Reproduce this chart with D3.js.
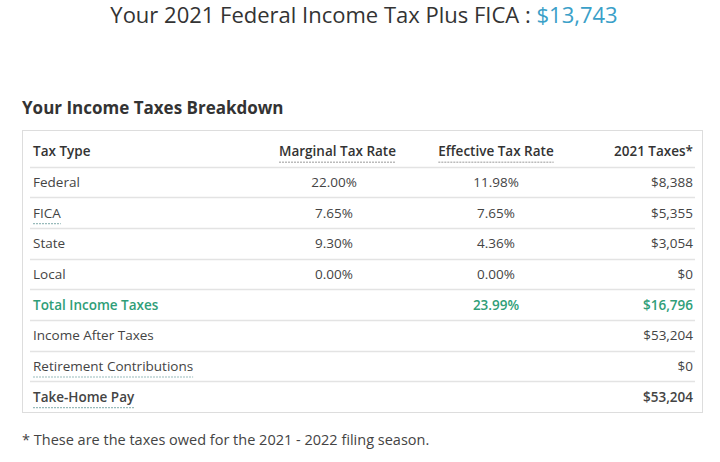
<!DOCTYPE html>
<html>
<head>
<meta charset="utf-8">
<style>
  body{margin:0;background:#fff;}
  text{font-family:"Open Sans",Lato,sans-serif;}
</style>
</head>
<body>
<div id="chart"></div>
<script src="https://cdn.jsdelivr.net/npm/d3@7"></script>
<script>
var headers = ["Tax Type","Marginal Tax Rate","Effective Tax Rate","2021 Taxes*"];
var taxTypes = ["Federal","FICA","State","Local","Total Income Taxes","Income After Taxes","Retirement Contributions","Take-Home Pay"];
var marginal = ["22.00%","7.65%","9.30%","0.00%","","","",""];
var effective = ["11.98%","7.65%","4.36%","0.00%","23.99%","","",""];
var taxes = ["$8,388","$5,355","$3,054","$0","$16,796","$53,204","$0","$53,204"];
var underlined = ["FICA","Retirement Contributions","Take-Home Pay"];

var svg = d3.select("#chart").append("svg").attr("width",720).attr("height",462);

// title
var t = svg.append("text").attr("x",364).attr("y",23).attr("text-anchor","middle")
  .style("font-size","22px").style("font-weight","500").style("fill","#333");
t.append("tspan").text("Your 2021 Federal Income Tax Plus FICA : ");
t.append("tspan").style("fill","#3aa0c8").text("$13,743");

svg.append("text").attr("x",22).attr("y",114).style("font-size","17px")
  .style("font-weight","bold").style("fill","#333").text("Your Income Taxes Breakdown");

// table box
svg.append("rect").attr("x",22.5).attr("y",130.5).attr("width",680).attr("height",282)
  .attr("fill","none").attr("stroke","#ddd");

var y = d3.scaleBand().domain(d3.range(9)).range([136,412]);
var colX = [33,396,557,693];
var anchors = ["start","end","middle","end"];

// separators
svg.selectAll("line.sep").data(d3.range(1,9)).enter().append("line")
  .attr("x1",30).attr("x2",695)
  .attr("y1",function(d){return Math.round(y(d))+0.5;})
  .attr("y2",function(d){return Math.round(y(d))+0.5;})
  .attr("stroke","#e3e3e3").attr("stroke-width",1.5);

// header
headers.forEach(function(h,i){
  var x = i==2 ? 496 : colX[i];
  var el = svg.append("text").attr("x",x).attr("y",y(0)+y.bandwidth()/2+5)
    .attr("text-anchor",anchors[i]).style("font-size","13.5px").style("font-weight","600")
    .style("fill","#333").text(h);
  if(i==1||i==2){
    var w = el.node().getComputedTextLength();
    var x0 = i==1 ? x-w : x-w/2;
    svg.append("line").attr("x1",x0).attr("x2",x0+w)
      .attr("y1",y(0)+y.bandwidth()/2+11).attr("y2",y(0)+y.bandwidth()/2+11)
      .attr("stroke","#bbb").attr("stroke-width",1.5).attr("stroke-dasharray","2,1");
  }
});

// rows
taxTypes.forEach(function(name,r){
  var cy = y(r+1)+y.bandwidth()/2+5;
  var isTotal = name=="Total Income Taxes";
  var isTake = name=="Take-Home Pay";
  var col = isTotal ? "#2f9e78" : "#444";
  var wt = (isTotal||isTake) ? "600" : "normal";
  var vals = [name, marginal[r], effective[r], taxes[r]];
  vals.forEach(function(v,i){
    if(!v) return;
    var x = i==2 ? 496 : (i==1 ? 334 : colX[i]);
    var el = svg.append("text").attr("x",x).attr("y",cy)
      .attr("text-anchor", i==1 ? "middle" : anchors[i])
      .style("font-size","13.5px").style("font-weight", (i==0||i==3||isTotal) ? wt : "normal")
      .style("fill",col).text(v);
    if(i==0 && underlined.indexOf(name)>=0){
      var w = el.node().getComputedTextLength();
      svg.append("line").attr("x1",x).attr("x2",x+w).attr("y1",cy+6).attr("y2",cy+6)
        .attr("stroke","#9bb").attr("stroke-width",1.2).attr("stroke-dasharray","2,1");
    }
  });
});

svg.append("text").attr("x",22).attr("y",445).style("font-size","14.5px")
  .style("fill","#444").text("* These are the taxes owed for the 2021 - 2022 filing season.");
</script>
</body>
</html>
